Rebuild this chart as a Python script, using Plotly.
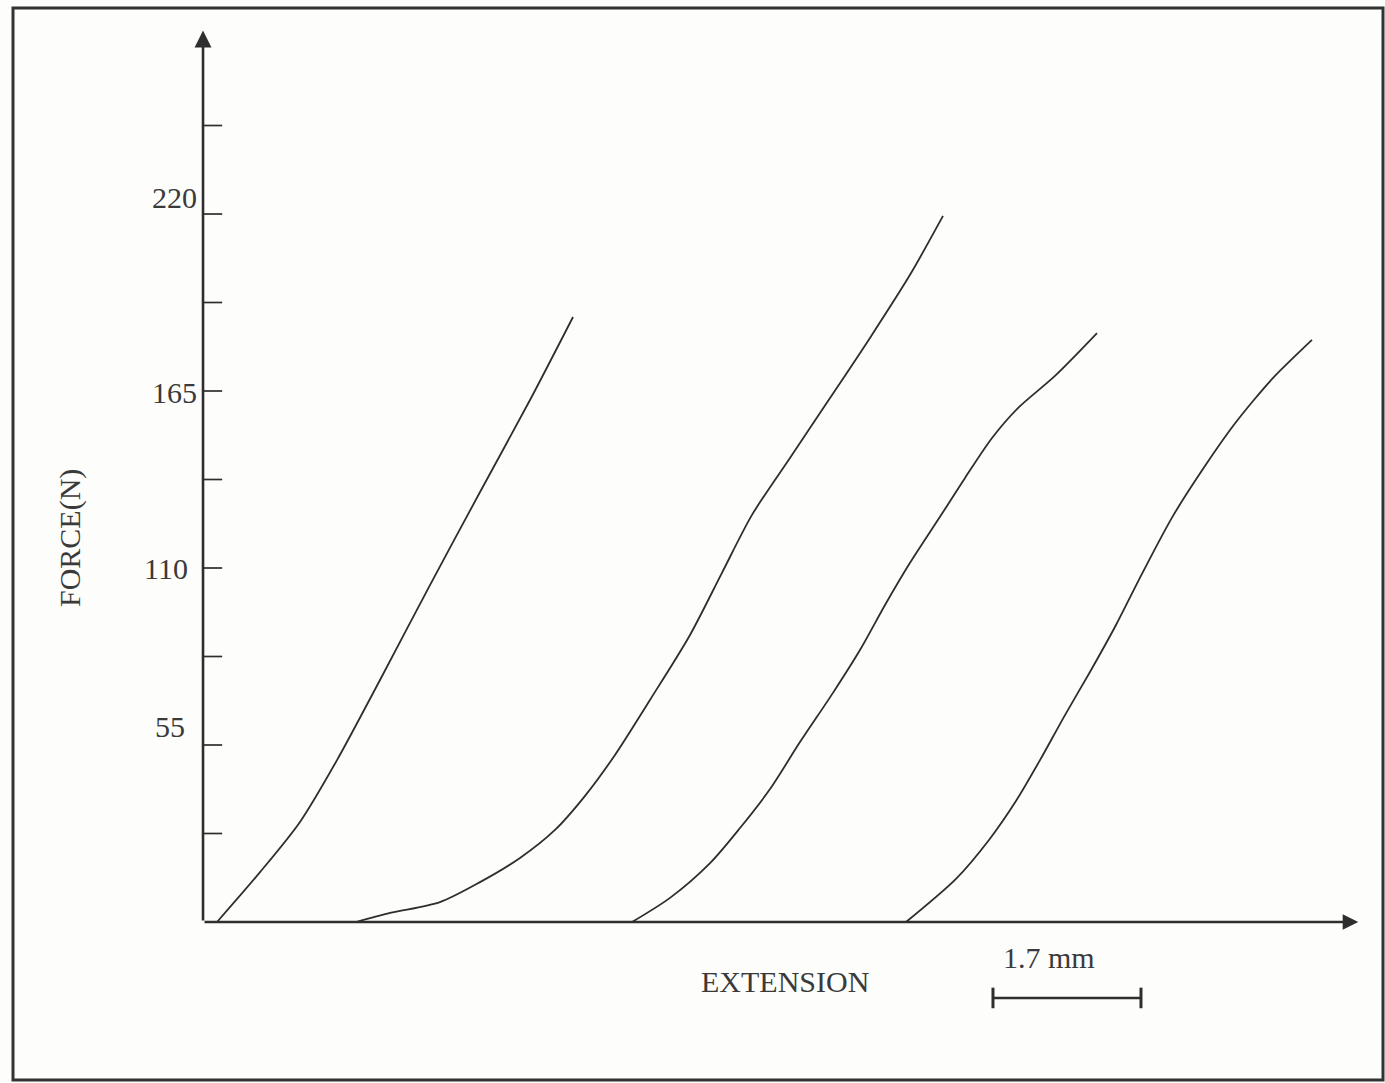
import plotly.graph_objects as go

# Force-extension records of four specimens (extension in mm, force in N)
ext_1 = [0.161, 0.655, 1.114, 1.539, 2.033, 2.607, 3.182, 3.756, 4.250]
force_1 = [0.0, 15.5, 31.1, 50.3, 75.2, 104.7, 133.6, 162.2, 188.0]

ext_2 = [1.757, 2.148, 2.722, 3.182, 3.641, 4.043, 4.388, 4.732, 5.134, 5.594, 5.961,
         6.306, 6.742, 7.202, 7.661, 8.121, 8.500]
force_2 = [0.0, 2.8, 6.2, 12.4, 19.9, 28.6, 39.2, 51.9, 69.0, 89.2, 108.5,
           126.5, 144.2, 162.8, 181.5, 201.1, 219.4]

ext_3 = [4.928, 5.364, 5.824, 6.168, 6.513, 6.857, 7.236, 7.546, 7.834, 8.121, 8.465,
         8.753, 9.063, 9.361, 9.786, 10.269]
force_3 = [0.0, 7.5, 18.3, 29.2, 41.3, 55.9, 71.2, 84.5, 98.5, 111.6, 125.9,
           138.0, 150.4, 159.7, 169.7, 183.0]

ext_4 = [8.075, 8.649, 9.028, 9.338, 9.614, 9.901, 10.188, 10.487, 10.797, 11.142,
         11.532, 11.831, 12.061, 12.313, 12.738]
force_4 = [0.0, 13.4, 25.5, 37.6, 50.3, 64.3, 77.7, 92.3, 108.8, 126.2,
           142.6, 154.1, 161.9, 169.7, 180.9]

# Axis marks
tick_values = [27.5, 55, 82.5, 110, 137.5, 165, 192.5, 220, 247.5]
label_values = [55, 110, 165, 220]
label_texts = ["55", "110", "165", "220"]
axis_top = 277.0      # N, tip of the force arrow
axis_right = 13.27    # mm, tip of the extension arrow
scale_start = 9.074   # mm
scale_length = 1.7    # mm
scale_level = -23.6   # N

INK = "#2e2e2e"
TEXT_INK = "#3a3a3a"
PAPER = "#fdfdfb"
FONT = "Liberation Serif, Times New Roman, serif"

fig = go.Figure()

for xs, ys in [(ext_1, force_1), (ext_2, force_2), (ext_3, force_3), (ext_4, force_4)]:
    fig.add_trace(go.Scatter(
        x=xs, y=ys, mode="lines",
        line=dict(color=INK, width=1.8, shape="spline", smoothing=0.8),
        hoverinfo="skip", showlegend=False,
    ))

annotations = []
shapes = []

# Axes drawn as arrows from the origin
annotations.append(dict(x=0, y=axis_top, ax=0, ay=0, xref="x", yref="y", axref="x", ayref="y",
                        showarrow=True, arrowhead=2, arrowsize=1.3, arrowwidth=2.6,
                        arrowcolor=INK, text=""))
annotations.append(dict(x=axis_right, y=0, ax=0, ay=0, xref="x", yref="y", axref="x", ayref="y",
                        showarrow=True, arrowhead=2, arrowsize=1.3, arrowwidth=2.4,
                        arrowcolor=INK, text=""))

# Ticks on the inside of the force axis
for v in tick_values:
    shapes.append(dict(type="line", xref="x", yref="y", x0=0, x1=0.22, y0=v, y1=v,
                       line=dict(color=INK, width=1.7)))

# Tick labels, typed a little off the tick marks
label_shift = [19, 0, -1, 17]
label_xshift = [-16, -13, -4, -4]
for v, t, dy, dx in zip(label_values, label_texts, label_shift, label_xshift):
    annotations.append(dict(x=0, y=v, xref="x", yref="y", text=t, showarrow=False,
                            xanchor="right", yanchor="middle", xshift=dx, yshift=dy,
                            font=dict(family=FONT, size=30, color=TEXT_INK)))

# Axis titles
annotations.append(dict(x=70 / 1385, y=1 - 538 / 1083, xref="paper", yref="paper",
                        xanchor="center", yanchor="middle",
                        text="FORCE(N)", textangle=-90, showarrow=False,
                        font=dict(family=FONT, size=30, color=TEXT_INK)))
annotations.append(dict(x=785 / 1385, y=1 - 981 / 1083, xref="paper", yref="paper",
                        xanchor="center", yanchor="middle",
                        text="EXTENSION", showarrow=False,
                        font=dict(family=FONT, size=30, color=TEXT_INK)))

# Scale bar for the extension axis
annotations.append(dict(x=scale_start + scale_length / 2, y=scale_level, xref="x", yref="y",
                        xanchor="center", yanchor="middle",
                        text="1.7 mm", showarrow=False, yshift=40, xshift=-18,
                        font=dict(family=FONT, size=30, color=TEXT_INK)))
shapes.append(dict(type="line", xref="x", yref="y", x0=scale_start, x1=scale_start + scale_length,
                   y0=scale_level, y1=scale_level, line=dict(color=INK, width=2.6)))
for xe in (scale_start, scale_start + scale_length):
    shapes.append(dict(type="line", xref="x", yref="y", x0=xe, x1=xe,
                       y0=scale_level - 3.2, y1=scale_level + 3.2, line=dict(color=INK, width=3)))

# Outer frame around the sheet
shapes.append(dict(type="rect", xref="paper", yref="paper",
                   x0=13 / 1385, x1=1383 / 1385, y0=1 - 1080 / 1083, y1=1 - 8 / 1083,
                   line=dict(color="#333333", width=3), fillcolor="rgba(0,0,0,0)"))

fig.update_layout(
    width=1385, height=1083,
    margin=dict(l=0, r=0, t=0, b=0),
    paper_bgcolor=PAPER, plot_bgcolor=PAPER,
    xaxis=dict(range=[-2.332, 13.577], visible=False, fixedrange=True),
    yaxis=dict(range=[-50.03, 286.5], visible=False, fixedrange=True),
    annotations=annotations, shapes=shapes,
    showlegend=False,
)

fig.write_html("out.html")
